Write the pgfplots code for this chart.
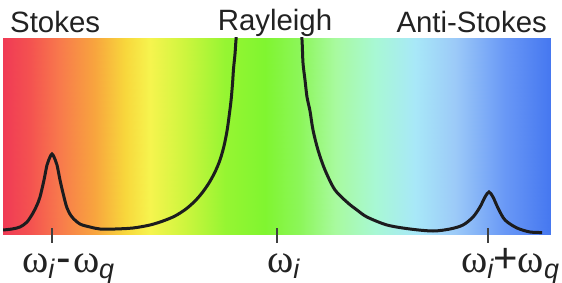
\documentclass[border=0pt]{standalone}
\usepackage{fontspec}
\setmainfont{Liberation Sans}
\newfontfamily\gr{Liberation Serif}
\usepackage{pgfplots}
\pgfplotsset{compat=1.18}
\pgfplotsset{colormap={rb}{rgb255(3pt)=(240,58,85); rgb255(30pt)=(244,82,80); rgb255(60pt)=(248,122,76); rgb255(95pt)=(248,165,62); rgb255(125pt)=(248,215,60); rgb255(150pt)=(246,244,78); rgb255(185pt)=(205,245,62); rgb255(225pt)=(150,245,50); rgb255(265pt)=(128,245,48); rgb255(300pt)=(140,246,90); rgb255(335pt)=(168,250,158); rgb255(375pt)=(168,248,212); rgb255(415pt)=(168,232,248); rgb255(455pt)=(156,202,248); rgb255(505pt)=(105,152,246); rgb255(550pt)=(70,120,240)}}
\definecolor{txt}{RGB}{34,34,34}
\definecolor{curve}{RGB}{28,28,30}
\newcommand{\w}{{\gr ω}}
\newcommand{\sub}[1]{\raisebox{-6bp}{\fontsize{27}{27}\selectfont\itshape #1}}
\pgfplotstableread{
x y
3 0
30 0
60 0
95 0
125 0
150 0
185 0
225 0
265 0
300 0
335 0
375 0
415 0
455 0
505 0
550 0
3 196
30 196
60 196
95 196
125 196
150 196
185 196
225 196
265 196
300 196
335 196
375 196
415 196
455 196
505 196
550 196
}\bgtable
\pgfplotstableread{
x y
3 4
12 5
20 7
27 12
33 21
37 29
40 37
44 54
47 69
50 77
52 80
54 77
57 69
60 54
63 41
67 26
72 17
80 10
90 7
100 5
115 5
133 6
150 9
163 13
175 18
186 25
195 33
202 41
209 51
215 62
220 74
224 88
227 103
229 117
231 133
232.5 150
233.5 165
235 180
236 194
238 214
250 300
288 300
300 214
302 194
303 171
305 154
307 137
310 123
313 104
318 84
325 64
335 44
348 31
357 24
367 17
387 9
410 5
433 3
450 5
463 9
473 17
480 27
485 37
489 42
493 37
498 26
505 14
517 6
530 2
542 1.5
}\curvetable
\begin{document}
\begin{tikzpicture}
\path[use as bounding box] (-3bp,-49bp) rectangle (559bp,234bp);
\begin{axis}[
  at={(0,0)}, anchor=south west,
  scale only axis, width=547bp, height=196bp,
  xmin=3, xmax=550, ymin=0, ymax=196,
  axis line style={draw=none},
  ytick=\empty,
  xtick={52,277,488}, xticklabels={},
  tick pos=left,
  xtick align=center, major tick length=14bp,
  tick style={line width=1.3bp, color=black!75, yshift=-1.5bp},
  axis on top,
  clip mode=individual,
  colormap name=rb,
  point meta min=3, point meta max=550,
]
\addplot[surf, shader=interp, point meta=x, mesh/rows=2, mesh/cols=16] table {\bgtable};
\addplot[curve, line width=3bp, smooth, tension=0.5] table {\curvetable};
\node[anchor=base west, inner sep=0, text=txt, font=\fontsize{29.5}{30}\selectfont] at (axis cs:10,201) {Stokes};
\node[anchor=base, inner sep=0, text=txt, font=\fontsize{29.5}{30}\selectfont] at (axis cs:275,203) {Rayleigh};
\node[anchor=base east, inner sep=0, text=txt, font=\fontsize{29.5}{30}\selectfont] at (axis cs:547,201) {Anti-Stokes};
\node[anchor=base west, inner sep=0, text=txt, font=\fontsize{40}{40}\selectfont] at (axis cs:22,-38) {\w\sub{i}\kern2bp{\fontsize{44}{44}\selectfont-}\kern2bp\w\sub{q}};
\node[anchor=base west, inner sep=0, text=txt, font=\fontsize{40}{40}\selectfont] at (axis cs:267,-38) {\w\sub{i}};
\node[anchor=base west, inner sep=0, text=txt, font=\fontsize{40}{40}\selectfont] at (axis cs:461,-38) {\w\sub{i}{\fontsize{42}{42}\selectfont+}\w\sub{q}};
\end{axis}
\end{tikzpicture}
\end{document}
